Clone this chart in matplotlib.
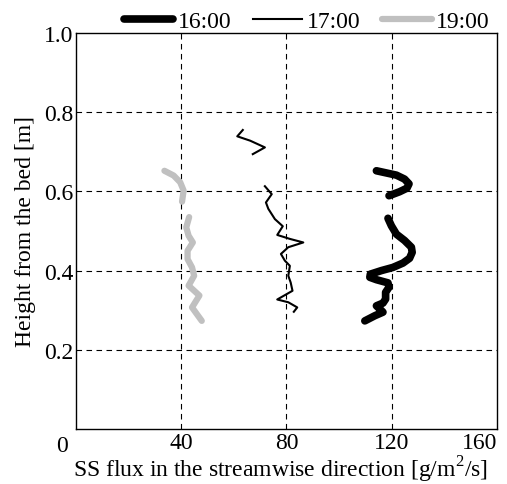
import matplotlib.pyplot as plt
import numpy as np

plt.rcParams['font.family'] = ['Liberation Serif', 'DejaVu Serif']
plt.rcParams['mathtext.fontset'] = 'custom'
plt.rcParams['mathtext.rm'] = 'Liberation Serif'

# profiles: flux [g/m2/s] vs height [m]; NaN separates the two measured segments
flux_16 = [114.2, 121.8, 124.9, 126.6, 125.8, 123.0, 119.0, np.nan,
           118.6, 119.9, 121.8, 124.9, 127.5, 127.8, 126.8, 124.3, 120.5, 116.1, 111.9, 111.7,
           114.2, 118.6, 119.0, 117.7, 117.7, 116.7, 114.2, 115.5, 116.7, 113.6, 109.8]
z_16 = [0.652, 0.641, 0.631, 0.619, 0.608, 0.599, 0.589, np.nan,
        0.532, 0.513, 0.492, 0.476, 0.459, 0.446, 0.431, 0.419, 0.408, 0.400, 0.391, 0.383,
        0.377, 0.369, 0.358, 0.345, 0.328, 0.318, 0.311, 0.303, 0.295, 0.286, 0.273]

flux_17 = [63.4, 61.3, 66.2, 71.8, 67.2, np.nan,
           71.8, 74.4, 72.2, 73.1, 75.6, 78.6, 76.5, 81.3, 86.4, 80.7, 77.9, 79.4, 81.3, 80.7,
           81.6, 82.3, 76.5, 80.7, 84.1, 82.8]
z_17 = [0.755, 0.739, 0.728, 0.711, 0.694, np.nan,
        0.613, 0.593, 0.572, 0.556, 0.530, 0.512, 0.490, 0.480, 0.471, 0.459, 0.442, 0.425, 0.412, 0.387,
        0.370, 0.349, 0.327, 0.320, 0.307, 0.296]

flux_19 = [33.6, 37.1, 39.6, 40.9, 40.3, np.nan,
           43.0, 41.9, 42.8, 44.4, 42.4, 42.4, 44.1, 44.9, 42.8, 46.9, 44.1, 47.8]
z_19 = [0.652, 0.640, 0.623, 0.602, 0.574, np.nan,
        0.535, 0.509, 0.488, 0.471, 0.450, 0.429, 0.408, 0.387, 0.362, 0.337, 0.307, 0.273]

xticks = [40, 80, 120, 160]
yticks = [0.2, 0.4, 0.6, 0.8, 1.0]
fs = 17

fig = plt.figure(figsize=(5.07, 4.85), dpi=100)
ax = fig.add_axes([0.150, 0.1134, 0.830, 0.8166])

ax.plot(flux_16, z_16, color='black', lw=5.5, solid_capstyle='round', solid_joinstyle='round', label='16:00')
ax.plot(flux_17, z_17, color='black', lw=1.5, solid_joinstyle='round', label='17:00')
ax.plot(flux_19, z_19, color='#c0c0c0', lw=4.5, solid_capstyle='round', solid_joinstyle='round', label='19:00')

ax.set_xlim(0, 160)
ax.set_ylim(0, 1.0)
ax.set_xticks(xticks)
ax.set_yticks(yticks)
ax.set_xticklabels([str(t) for t in xticks])
ax.set_yticklabels(['%.1f' % t for t in yticks])
ax.tick_params(length=0, labelsize=fs, pad=2)
ax.get_xticklabels()[-1].set_horizontalalignment('right')
ax.text(-0.033, -0.015, '0', transform=ax.transAxes, ha='center', va='top', fontsize=fs)

for v in [40, 80, 120]:
    ax.axvline(v, color='black', lw=0.8, ls=(0, (5, 4)), zorder=0)
for h in [0.2, 0.4, 0.6, 0.8]:
    ax.axhline(h, color='black', lw=0.8, ls=(0, (5, 4)), zorder=0)
for s in ax.spines.values():
    s.set_linewidth(1.0)

ax.set_xlabel('SS flux in the streamwise direction [g/m$^{2}$/s]', fontsize=fs)
ax.xaxis.set_label_coords(0.485, -0.062)
ax.set_ylabel('Height from the bed [m]', fontsize=fs, labelpad=6)

fig.legend(loc='upper center', bbox_to_anchor=(0.605, 1.02), ncol=3, frameon=False,
           fontsize=fs, handlelength=2.1, handletextpad=0.2, columnspacing=0.9)

fig.savefig('out.png', dpi=100)
